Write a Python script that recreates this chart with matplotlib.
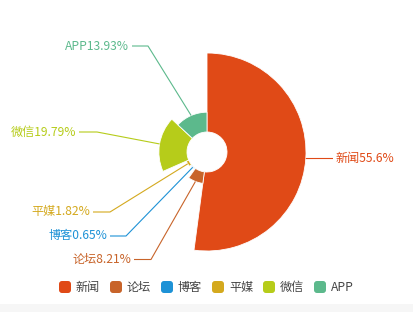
import numpy as np
import matplotlib
matplotlib.use("Agg")
import matplotlib.pyplot as plt
from matplotlib.patches import Wedge, Circle, FancyBboxPatch, Rectangle

plt.rcParams['font.family'] = ['Noto Sans CJK SC', 'DejaVu Sans']

# data
names = ['新闻', '论坛', '博客', '平媒', '微信', 'APP']
values = [55.6, 8.21, 0.65, 1.82, 19.79, 13.93]
colors = ['#e04a17', '#c8642a', '#1e92d6', '#d4a91e', '#b6cc1a', '#5cb98c']

# layout (pixels)
cx, cy = 207, 152
r0, r1 = 20, 99
min_angle = 15.5
# text anchor (end of the horizontal leader) for each label
label_xy = [(333, 158.5), (134, 259.5), (110, 236), (93, 212), (79, 132), (132, 46)]
elbow_x = [320, 151, 126, 110, 97, 148]

# rose pie angles (clockwise from top, echarts-like with minAngle)
small = [v / sum(values) * 360 < min_angle for v in values]
rest = 360 - min_angle * sum(small)
big_sum = sum(v for v, s in zip(values, small) if not s)
angles = [min_angle if s else v * rest / big_sum for v, s in zip(values, small)]
starts = np.concatenate([[0], np.cumsum(angles)[:-1]])
vmax = max(values)
radii = [r0 + (r1 - r0) * v / vmax for v in values]

fig = plt.figure(figsize=(4.13, 3.12), dpi=100)
ax = fig.add_axes([0, 0, 1, 1])
ax.set_xlim(0, 413)
ax.set_ylim(312, 0)
ax.axis('off')

ax.add_patch(Rectangle((0, 304), 413, 8, color='#f6f6f6', lw=0))

fs = 8.7
for i, name in enumerate(names):
    a0, a1 = starts[i], starts[i] + angles[i]
    ax.add_patch(Wedge((cx, cy), radii[i], a0 - 90, a1 - 90, width=radii[i] - r0,
                       facecolor=colors[i], edgecolor='white', lw=0.6))
    mid = np.radians((a0 + a1) / 2)
    ex = cx + radii[i] * np.sin(mid)
    ey = cy - radii[i] * np.cos(mid)
    tx, ty = label_xy[i]
    right = tx > cx
    ax.plot([ex, elbow_x[i], tx], [ey, ty, ty], color=colors[i], lw=0.8,
            solid_capstyle='butt')
    lbl = f'{name}{values[i]:g}%'
    if right:
        ax.text(tx + 3, ty, lbl, color=colors[i], fontsize=fs, ha='left', va='center')
    else:
        ax.text(tx - 3, ty, lbl, color=colors[i], fontsize=fs, ha='right', va='center')

# legend
for i, name in enumerate(names):
    x = 59 + 51 * i
    ax.add_patch(FancyBboxPatch((x + 1, 282), 10, 10, boxstyle='round,pad=1,rounding_size=3',
                                facecolor=colors[i], edgecolor='none'))
    ax.text(x + 17, 287.5, name, color='#444444', fontsize=fs, ha='left', va='center')

fig.savefig('out.png', dpi=100)
